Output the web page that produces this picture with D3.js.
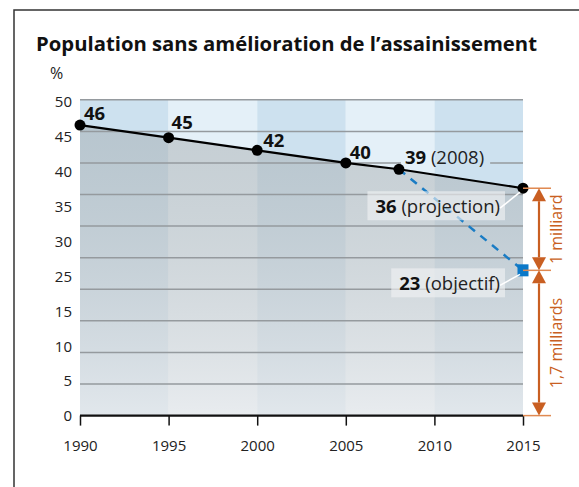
<!DOCTYPE html>
<html>
<head>
<meta charset="utf-8">
<script src="https://cdn.jsdelivr.net/npm/d3@7"></script>
<style>
  body { margin: 0; background: #fff; }
  svg { display: block; font-family: "Open Sans", sans-serif; }
</style>
</head>
<body>
<svg></svg>
<script>
// Chart data
const years = [1990, 1995, 2000, 2005, 2008, 2015];
const shares = [46, 44, 42, 40, 39, 36];
const shareLabels = ["46", "45", "42", "40", "39", "36"];
const shareNotes = ["", "", "", "", "(2008)", "(projection)"];
const targetYear = 2015, targetValue = 23;
const targetLabel = "23", targetNote = "(objectif)";
const xTicks = [1990, 1995, 2000, 2005, 2010, 2015];
const yTickLabels = ["50", "45", "40", "35", "30", "25", "15", "10", "5", "0"];
const bracketStops = [36, 23, 0];
const bracketLabels = ["1 milliard", "1,7 milliards"];

const width = 579, height = 487;
const orange = "#c95f22";

const svg = d3.select("svg").attr("width", width).attr("height", height);

const x = d3.scaleLinear().domain([1990, 2015]).range([80, 523]);
const y = d3.scaleLinear().domain([0, 50]).range([415.6, 99.8]);

const defs = svg.append("defs");

// gray shading under the line (darker at top)
const grad = defs.append("linearGradient")
  .attr("id", "under").attr("gradientUnits", "userSpaceOnUse")
  .attr("x1", 0).attr("y1", y(46)).attr("x2", 0).attr("y2", y(0));
grad.append("stop").attr("offset", "0%").attr("stop-color", "rgb(155,161,163)").attr("stop-opacity", 0.42);
grad.append("stop").attr("offset", "100%").attr("stop-color", "rgb(234,234,235)").attr("stop-opacity", 0.7);

// mask so the "39 (2008)" label cuts the gridline
const mask = defs.append("mask").attr("id", "gridmask").attr("maskUnits", "userSpaceOnUse");
mask.append("rect").attr("x", 0).attr("y", 0).attr("width", width).attr("height", height).attr("fill", "#fff");

// frame
svg.append("path")
  .attr("d", `M14,${height} V10 H${width}`)
  .attr("fill", "none").attr("stroke", "#333").attr("stroke-width", 1.5);

// title
svg.append("text")
  .attr("x", 36).attr("y", 51)
  .attr("font-size", 20.3).attr("font-weight", 700).attr("fill", "#111")
  .text("Population sans amélioration de l’assainissement");

svg.append("text")
  .attr("x", 50).attr("y", 79)
  .attr("font-size", 16).attr("fill", "#222")
  .text("%");

// column stripes
const stripeStarts = xTicks.slice(0, -1);
svg.append("g").selectAll("rect")
  .data(stripeStarts)
  .join("rect")
  .attr("x", d => x(d))
  .attr("y", y(50))
  .attr("width", d => x(d + 5) - x(d))
  .attr("height", y(0) - y(50))
  .attr("fill", (d, i) => i % 2 === 0 ? "#cde1ef" : "#e4f0f8");

// area under the line
const pts = years.map((yr, i) => ({ year: yr, value: shares[i] }));
svg.append("path")
  .datum(pts)
  .attr("fill", "url(#under)")
  .attr("d", d3.area().x(d => x(d.year)).y0(y(0)).y1(d => y(d.value)));

// gridlines
svg.append("g")
  .attr("mask", "url(#gridmask)")
  .selectAll("line")
  .data(y.ticks(10).filter(v => v > 0))
  .join("line")
  .attr("x1", x(1990)).attr("x2", x(2015))
  .attr("y1", d => y(d)).attr("y2", d => y(d))
  .attr("stroke", "#959a9e").attr("stroke-width", 1.5);

// y labels (as printed, evenly spaced)
const yLab = d3.scalePoint().domain(yTickLabels).range([101.5, 416]);
svg.append("g").selectAll("text")
  .data(yTickLabels)
  .join("text")
  .attr("x", 72).attr("y", d => yLab(d)).attr("dy", "0.36em")
  .attr("text-anchor", "end").attr("font-size", 15).attr("fill", "#222")
  .text(d => d);

// x axis
const xAxis = svg.append("g")
  .attr("transform", `translate(0,${y(0)})`)
  .call(d3.axisBottom(x).tickValues(xTicks).tickFormat(d3.format("d")).tickSize(10).tickPadding(15));
xAxis.select(".domain").attr("stroke", "#111").attr("stroke-width", 2.2).attr("d", `M${x(1990)},0H${x(2015)}`);
xAxis.selectAll(".tick line").attr("stroke", "#111").attr("stroke-width", 1.5);
xAxis.selectAll(".tick text").attr("font-size", 15).attr("font-family", "Open Sans").attr("fill", "#222");

// dashed projection to target
svg.append("line")
  .attr("x1", x(2008)).attr("y1", y(39))
  .attr("x2", x(targetYear)).attr("y2", y(targetValue))
  .attr("stroke", "#1a7cc4").attr("stroke-width", 2.5).attr("stroke-dasharray", "8,7");

// main line
svg.append("path")
  .datum(pts)
  .attr("fill", "none").attr("stroke", "#000").attr("stroke-width", 2.2)
  .attr("d", d3.line().x(d => x(d.year)).y(d => y(d.value)));

svg.append("g").selectAll("circle")
  .data(pts)
  .join("circle")
  .attr("cx", d => x(d.year)).attr("cy", d => y(d.value))
  .attr("r", 5.5).attr("fill", "#000");

// target square
svg.append("rect")
  .attr("x", x(targetYear) - 5.5).attr("y", y(targetValue) - 6)
  .attr("width", 11).attr("height", 12)
  .attr("fill", "#0a78c8");

// point labels
const labelOffsets = [[4, -5], [3, -9], [6, -3], [4, -4], [6, -5]];
function addLabel(g, bold, note, fs) {
  const t = g.append("text").attr("font-size", fs).attr("fill", "#111");
  t.append("tspan").attr("font-weight", 700).text(bold);
  if (note) t.append("tspan").attr("font-weight", 400).attr("fill", "#222").text(" " + note);
  return t;
}
pts.slice(0, 5).forEach((d, i) => {
  const t = addLabel(svg, shareLabels[i], shareNotes[i], 18.5)
    .attr("x", x(d.year) + labelOffsets[i][0])
    .attr("y", y(d.value) + labelOffsets[i][1]);
  if (shareNotes[i]) {
    const b = t.node().getBBox();
    mask.append("rect").attr("x", b.x - 4).attr("y", b.y).attr("width", b.width + 10).attr("height", b.height)
      .attr("fill", "#000");
  }
});

// boxed labels with white leaders
function boxedLabel(bold, note, px, py, tx, ty) {
  const g = svg.append("g");
  const rect = g.append("rect");
  const t = addLabel(g, bold, note, 18.5).attr("x", tx).attr("y", ty).attr("text-anchor", "end");
  const b = t.node().getBBox();
  rect.attr("x", b.x - 8).attr("y", b.y - 2).attr("width", b.width + 13).attr("height", b.height + 4)
    .attr("fill", "rgb(240,242,244)").attr("fill-opacity", 0.62);
  g.append("line")
    .attr("x1", tx).attr("y1", ty - 5).attr("x2", px - 3).attr("y2", py + 4)
    .attr("stroke", "#fff").attr("stroke-width", 1.6);
}
const last = pts[pts.length - 1];
boxedLabel(shareLabels[5], shareNotes[5], x(last.year), y(last.value), x(last.year) - 23, y(last.value) + 25);
boxedLabel(targetLabel, targetNote, x(targetYear), y(targetValue), x(targetYear) - 23, y(targetValue) + 20);

// orange brackets
const bx = 539;
const br = svg.append("g");
br.selectAll("line.tick")
  .data(bracketStops)
  .join("line")
  .attr("class", "tick")
  .attr("x1", x(2015)).attr("x2", 551)
  .attr("y1", d => y(d)).attr("y2", d => y(d))
  .attr("stroke", "#e08a52").attr("stroke-width", 1.5);

const head = 13, hw = 7;
bracketLabels.forEach((lab, i) => {
  const top = y(bracketStops[i]), bot = y(bracketStops[i + 1]);
  br.append("line")
    .attr("x1", bx).attr("x2", bx).attr("y1", top + head).attr("y2", bot - head)
    .attr("stroke", orange).attr("stroke-width", 2.2);
  br.append("path")
    .attr("d", `M${bx},${top} L${bx - hw},${top + head} L${bx + hw},${top + head} Z`)
    .attr("fill", orange);
  br.append("path")
    .attr("d", `M${bx},${bot} L${bx - hw},${bot - head} L${bx + hw},${bot - head} Z`)
    .attr("fill", orange);
  br.append("text")
    .attr("transform", `translate(562,${(top + bot) / 2}) rotate(-90)`)
    .attr("text-anchor", "middle")
    .attr("font-size", 16).attr("fill", orange)
    .text(lab);
});
</script>
</body>
</html>
